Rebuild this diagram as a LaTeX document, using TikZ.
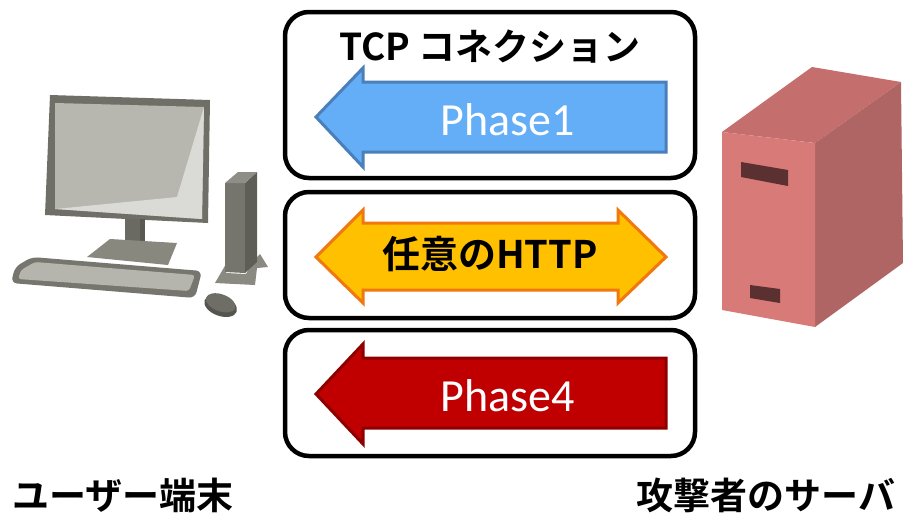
\documentclass[tikz,border=0pt]{standalone}
\usepackage{fontspec}
\newfontfamily\jpbold{Noto Sans CJK JP Bold}
\newfontfamily\calib{Carlito}
\usetikzlibrary{calc}

% palette
\definecolor{frameGray}{HTML}{6F6F67}
\definecolor{screenGray}{HTML}{B7B7AF}
\definecolor{screenLight}{HTML}{DADAD6}
\definecolor{neckGray}{HTML}{6A6A62}
\definecolor{baseGray}{HTML}{88887F}
\definecolor{keyOuter}{HTML}{76766E}
\definecolor{keyInner}{HTML}{B5B5AD}
\definecolor{towerFront}{HTML}{75756D}
\definecolor{towerSide}{HTML}{5E5E57}
\definecolor{towerTop}{HTML}{8E8E86}
\definecolor{standGray}{HTML}{8A8A82}
\definecolor{mouseGray}{HTML}{6E6E66}
\definecolor{mouseDark}{HTML}{55554F}
\definecolor{srvFront}{HTML}{D77A78}
\definecolor{srvTop}{HTML}{C46E6E}
\definecolor{srvSide}{HTML}{AF6563}
\definecolor{srvSlot}{HTML}{5A3030}
\definecolor{blueFill}{HTML}{63AEF7}
\definecolor{blueEdge}{HTML}{4B7FB9}
\definecolor{ylwFill}{HTML}{FFC000}
\definecolor{ylwEdge}{HTML}{F0780F}
\definecolor{redFill}{HTML}{C00000}
\definecolor{redEdge}{HTML}{8E0000}

\tikzset{
  phasebox/.style={draw=black, line width=4.5pt, rounded corners=24pt},
  arrowshape/.style={line width=3pt, line join=miter},
  phaselabel/.style={font=\calib\fontsize{46}{46}\selectfont, text=white, inner sep=0pt},
  boldlabel/.style={font=\jpbold\fontsize{#1}{#1}\selectfont, text=black, inner sep=0pt},
}

\begin{document}
\begin{tikzpicture}[x=1pt, y=-1pt]
\useasboundingbox (0,0) rectangle (903,512);
\fill[white] (0,0) rectangle (903,512);

% ---------- user terminal ----------
% monitor
\fill[frameGray] (50,95) -- (210,100) -- (208,223) -- (45,215) -- cycle;
\fill[screenGray] (55,103) -- (204,107) -- (202,219) -- (55,209) -- cycle;
\fill[screenLight] (204,107) -- (202,219) -- (55,209) -- (177,197) -- cycle;
% neck and foot
\fill[neckGray] (125,219) rectangle (145,250);
\fill[frameGray!80!black] (140,219) rectangle (145,250);
\fill[baseGray] (110,239) -- (177,243) -- (168,265) -- (87,257) -- cycle;
% keyboard
\fill[keyOuter, rounded corners=6pt] (32,257) -- (202,271) -- (195,298) -- (11,283) -- (15,267) -- cycle;
\fill[keyInner, rounded corners=3pt] (35,262) -- (195,275) -- (189,291) -- (18,279) -- (21,270) -- cycle;
% tower stand
\fill[standGray] (215,283) -- (226,264) -- (226,273) -- (246,274) -- (252,262) -- (260,254) -- (268,267) -- (257,268) -- (255,285) -- cycle;
% tower
\fill[towerFront] (225,183) -- (245,183) -- (245,273) -- (225,272) -- cycle;
\fill[towerSide] (245,183) -- (257,172) -- (257,262) -- (245,273) -- cycle;
\fill[towerTop] (225,183) -- (238,172) -- (257,172) -- (245,183) -- cycle;
% mouse
\fill[mouseDark, rotate around={-20:(221,305)}] (221,306) ellipse [x radius=17pt, y radius=10pt];
\fill[mouseGray, rotate around={-20:(221,305)}] (220,303) ellipse [x radius=15.5pt, y radius=8.5pt];

% ---------- attacker server ----------
\fill[srvTop] (722,132) -- (812,67) -- (901,82) -- (815,143) -- cycle;
\fill[srvSide] (815,143) -- (901,82) -- (903,263) -- (815,327) -- cycle;
\fill[srvFront] (722,132) -- (815,143) -- (815,327) -- (722,310) -- cycle;
\fill[srvSlot] (741,162) -- (788,170) -- (788,186) -- (741,177) -- cycle;
\fill[srvSlot] (750,285) -- (780,289) -- (780,303) -- (750,298) -- cycle;

% ---------- connection panels ----------
\draw[phasebox] (285,12) rectangle (695,178);
\draw[phasebox] (285,192) rectangle (695,318);
\draw[phasebox] (285,330) rectangle (695,456);

\node[boldlabel=37] (tcp) at (490,47) {TCP コネクション};

% Phase1: leftward arrow
\draw[arrowshape, fill=blueFill, draw=blueEdge]
  (316,117) -- (363,68) -- (363,82) -- (666,82) -- (666,152) -- (363,152) -- (363,167) -- cycle;
\node[phaselabel] (ph1) at (508,120) {Phase1};

% arbitrary HTTP: two-way arrow
\draw[arrowshape, fill=ylwFill, draw=ylwEdge]
  (316,257) -- (363,210) -- (363,223) -- (618,223) -- (618,210) -- (666,257)
  -- (618,303) -- (618,290) -- (363,290) -- (363,303) -- cycle;
\node[boldlabel=38] (http) at (490,254) {任意のHTTP};

% Phase4: leftward arrow
\draw[arrowshape, fill=redFill, draw=redEdge]
  (316,394) -- (363,344) -- (363,358) -- (666,358) -- (666,428) -- (363,428) -- (363,444) -- cycle;
\node[phaselabel] (ph4) at (508,396) {Phase4};

% ---------- captions ----------
\node[boldlabel=37] (user) at (123,495) {ユーザー端末};
\node[boldlabel=37] (atk) at (766,495) {攻撃者のサーバ};
\end{tikzpicture}
\end{document}
